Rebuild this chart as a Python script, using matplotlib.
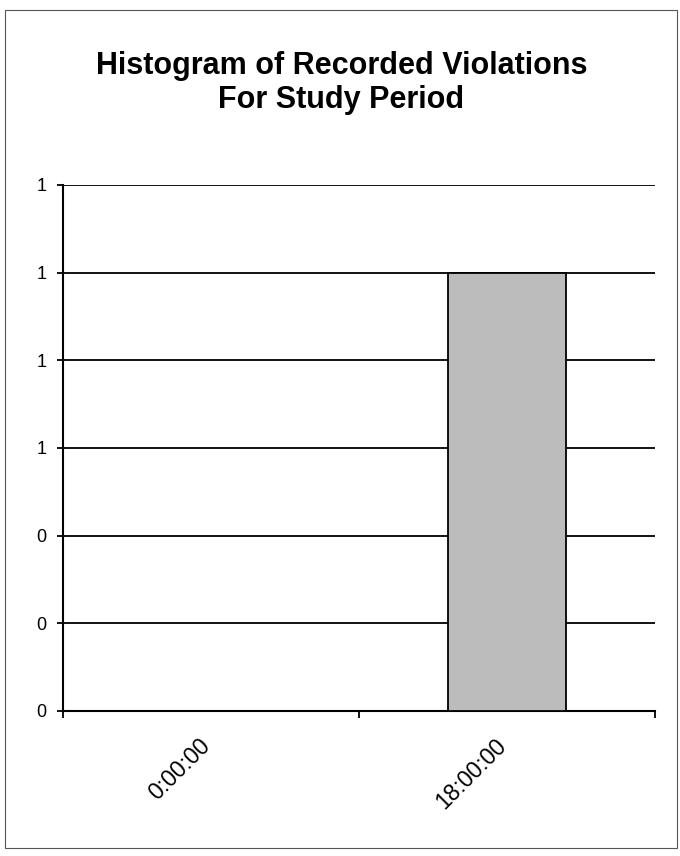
import numpy as np
import matplotlib.pyplot as plt
from matplotlib.ticker import FormatStrFormatter
from matplotlib.patches import Rectangle
from matplotlib.transforms import ScaledTranslation

plt.rcParams['font.family'] = ['Liberation Sans', 'DejaVu Sans']

categories = ["0:00:00", "18:00:00"]
counts = [0, 1]
y_ticks = [0, 0.2, 0.4, 0.6, 0.8, 1.0, 1.2]

fig = plt.figure(figsize=(6.8, 8.56), dpi=100)
ax = fig.add_axes([0.0926, 0.1694, 0.8706, 0.6145])

x = np.arange(len(categories))
ax.bar(x, counts, width=0.4, color="#bcbcbc", edgecolor="black", linewidth=1.3, zorder=3)

ax.set_xlim(-0.5, len(categories) - 0.5)
ax.set_ylim(0, 1.2)
ax.set_yticks(y_ticks)
ax.yaxis.set_major_formatter(FormatStrFormatter("%.0f"))
ax.yaxis.grid(True, color="black", linewidth=1.3, zorder=0)
ax.set_axisbelow(True)

# ticks on category boundaries, labels at category centres
ax.set_xticks(np.arange(len(categories) + 1) - 0.5)
ax.set_xticklabels([])
ax.set_xticks(x, minor=True)
ax.set_xticklabels(categories, minor=True, rotation=45, ha="right", rotation_mode="anchor", fontsize=16.5)
ax.tick_params(axis="x", which="minor", length=0, pad=17)
ax.tick_params(axis="x", which="major", length=5, width=1.3, direction="out")
ax.tick_params(axis="y", length=4, width=1.3, labelsize=13, pad=8)
shift = ScaledTranslation(-0.12, 0, fig.dpi_scale_trans)
for lbl in ax.get_xticklabels(minor=True):
    lbl.set_transform(lbl.get_transform() + shift)

for s in ["top", "right"]:
    ax.spines[s].set_visible(False)
ax.spines["left"].set_linewidth(1.5)
ax.spines["bottom"].set_linewidth(1.5)

fig.text(0.502, 0.940, "Histogram of Recorded Violations\nFor Study Period",
         ha="center", va="top", fontsize=22, fontweight="bold", linespacing=1.15)

fig.patches.append(Rectangle((0.0074, 0.0093), 0.988, 0.979, transform=fig.transFigure,
                             fill=False, edgecolor="#555555", linewidth=0.8))

fig.savefig("out.png", dpi=100)
